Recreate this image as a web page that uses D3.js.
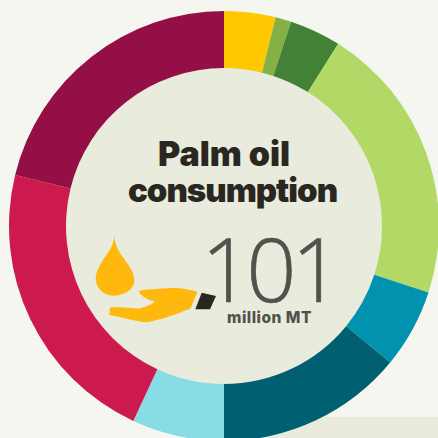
<!DOCTYPE html>
<html>
<head>
<meta charset="utf-8">
<script src="https://cdn.jsdelivr.net/npm/d3@7/dist/d3.min.js"></script>
<style>
  html, body { margin: 0; padding: 0; background: #f5f6f0; overflow: hidden; }
  svg { display: block; }
  text { font-family: Inter, sans-serif; font-variant-ligatures: none; }
</style>
</head>
<body>
<svg id="chart" width="438" height="438"></svg>
<script>
// Palm oil consumption by use, million metric tons, clockwise from 12 o'clock
const segments = ["a", "b", "c", "d", "e", "f", "g", "h", "i"];
const consumption = [3.9, 1.2, 3.9, 21.3, 6.0, 14.2, 7.0, 22.1, 21.4];
const segmentColors = ["#ffc800", "#84b044", "#428136", "#b2d966", "#0092ae", "#005f70", "#88dce6", "#cd1a4e", "#930f45"];
const titleLines = ["Palm oil", "consumption"];
const titleCentres = [224, 232.5];
const titleSizes = [34, 33];
const titleTracking = [0, -1];
const totalLabel = "101";
const unitLabel = "million MT";

const svg = d3.select("#chart");
const cx = 224, cy = 226, outer = 215, inner = 158;

// Pale strip along the bottom edge, behind the ring
svg.append("rect").attr("x", 224).attr("y", 417).attr("width", 214).attr("height", 21).attr("fill", "#e9ebdd");

const ring = svg.append("g").attr("transform", `translate(${cx},${cy})`);

ring.append("circle").attr("r", inner + 1).attr("fill", "#e9ebdd");

const pie = d3.pie().value(d => d).sort(null);
const arc = d3.arc().innerRadius(inner).outerRadius(outer);

ring.selectAll("path")
  .data(pie(consumption))
  .join("path")
  .attr("d", arc)
  .attr("fill", (d, i) => segmentColors[i]);

// Centre title
svg.append("g").selectAll("text")
  .data(titleLines)
  .join("text")
  .attr("x", (d, i) => titleCentres[i])
  .attr("y", (d, i) => 166 + i * 36)
  .attr("text-anchor", "middle")
  .attr("font-size", (d, i) => titleSizes[i])
  .attr("letter-spacing", (d, i) => titleTracking[i])
  .attr("font-weight", 900)
  .attr("fill", "#2a2722")
  .text(d => d);

// Total and its unit
svg.append("text")
  .attr("x", 269)
  .attr("y", 302)
  .attr("text-anchor", "middle")
  .attr("font-size", 88)
  .attr("font-weight", 300)
  .attr("letter-spacing", -5)
  .attr("stroke", "#51524c")
  .attr("stroke-width", 0.6)
  .attr("style", "font-family:'Open Sans',sans-serif")
  .attr("fill", "#51524c")
  .text(totalLabel);

svg.append("text")
  .attr("x", 269.5)
  .attr("y", 323)
  .attr("text-anchor", "middle")
  .attr("font-size", 15.5)
  .attr("font-weight", 800)
  .attr("letter-spacing", 0.5)
  .attr("fill", "#51524c")
  .text(unitLabel);

// Oil drop above an open hand
const icon = svg.append("g");
icon.append("path")
  .attr("d", "M114.3,235.7 C115,248 121,254 127,263 C132,270 134.5,275 134.3,281 C134,290 124,295.5 113,295.7 C103,295 95.5,288 95.7,278 C96,271 101,263 105,257 C110,250 113.5,245 114.3,235.7 Z")
  .attr("fill", "#ffb80d");
icon.append("path")
  .attr("d", "M138.5,291 C143,289 160,289 173,287.7 C180,288 190,289.5 197.5,291.7 L190.5,308.5 C175,315 160,320 146.5,322.3 C135,321 120,317 109.5,315 L110,307.5 C122,306.5 135,308.5 140,308.5 C146,306.5 152,304 155,301.7 C150,300 142,298 138.5,291 Z")
  .attr("fill", "#ffb80d");
icon.append("path")
  .attr("d", "M201.7,292.7 L216,296 L210,309.3 L195.3,309.3 Z")
  .attr("fill", "#2a2722");
</script>
</body>
</html>
